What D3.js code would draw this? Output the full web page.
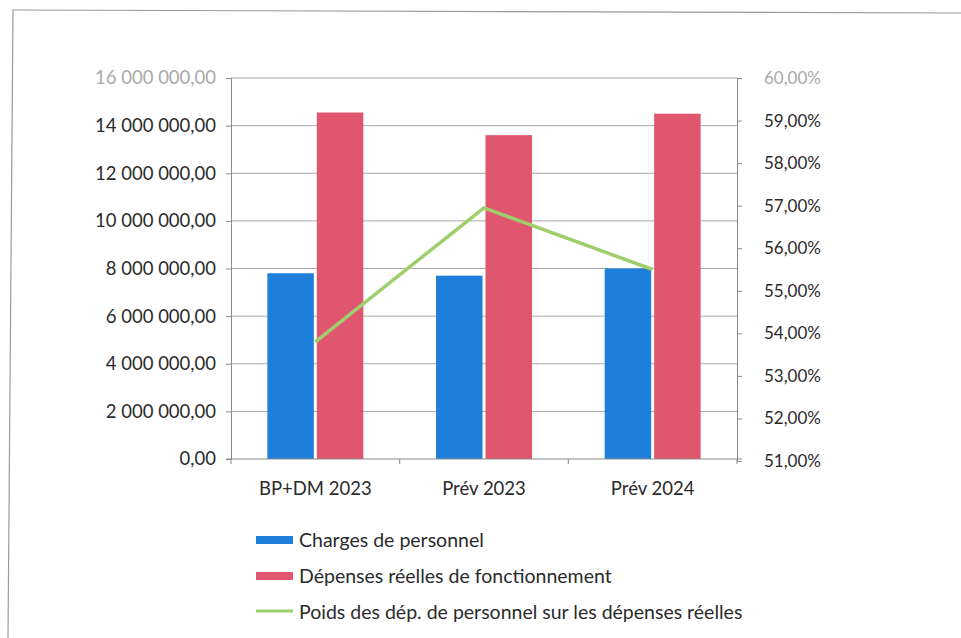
<!DOCTYPE html>
<html>
<head>
<meta charset="utf-8">
<script src="https://cdn.jsdelivr.net/npm/d3@7"></script>
<style>
  body { margin: 0; background: #fff; }
  svg { display: block; }
</style>
</head>
<body>
<div id="chart"></div>
<script>
// data
const categories = ['BP+DM 2023', 'Prév 2023', 'Prév 2024'];
const charges = [7800000, 7700000, 8000000];
const depenses = [14550000, 13600000, 14500000];
const poids = [53.8, 56.95, 55.5];
const leftTicks = [0, 2000000, 4000000, 6000000, 8000000, 10000000, 12000000, 14000000, 16000000];
const rightTicks = [51, 52, 53, 54, 55, 56, 57, 58, 59, 60];
const seriesNames = ['Charges de personnel', 'Dépenses réelles de fonctionnement', 'Poids des dép. de personnel sur les dépenses réelles'];

const blue = '#1f80dc';
const red = '#e0566f';
const green = '#9fcf6c';
const axisColor = '#8a8a8a';
const gridColor = '#a8a8a8';
const textColor = '#2b2b2b';
const font = 'Lato, "Open Sans", sans-serif';

const width = 961, height = 638;
const plot = { left: 231, right: 737, top: 78, bottom: 459 };

const svg = d3.select('#chart')
    .append('svg')
    .attr('width', width)
    .attr('height', height)
    .style('font-family', font);

// scan frame (top and left edges of the page box)
svg.append('path')
    .attr('d', 'M12,10 L961,13 M13,10 L8,638')
    .attr('fill', 'none')
    .attr('stroke', '#9a9a9a')
    .attr('stroke-width', 1.2);

const x0 = d3.scaleBand()
    .domain(categories)
    .range([plot.left, plot.right])
    .padding(0);

const x1 = d3.scaleBand()
    .domain(['charges', 'depenses'])
    .range([0, x0.bandwidth()])
    .paddingInner(0.06)
    .paddingOuter(0.735);

const yLeft = d3.scaleLinear()
    .domain([0, 16000000])
    .range([plot.bottom, plot.top]);

const yRight = d3.scaleLinear()
    .domain([51, 60])
    .range([plot.bottom + 2, plot.top]);

// gridlines
svg.append('g')
    .selectAll('line')
    .data(leftTicks.slice(1))
    .join('line')
    .attr('x1', plot.left)
    .attr('x2', plot.right)
    .attr('y1', d => yLeft(d))
    .attr('y2', d => yLeft(d))
    .attr('stroke', gridColor)
    .attr('stroke-width', 1);

// bars
const groups = svg.append('g')
    .selectAll('g')
    .data(categories.map((c, i) => ({ c, charges: charges[i], depenses: depenses[i] })))
    .join('g')
    .attr('transform', d => `translate(${x0(d.c)},0)`);

groups.append('rect')
    .attr('x', x1('charges'))
    .attr('width', x1.bandwidth())
    .attr('y', d => yLeft(d.charges))
    .attr('height', d => yLeft(0) - yLeft(d.charges))
    .attr('fill', blue);

groups.append('rect')
    .attr('x', x1('depenses'))
    .attr('width', x1.bandwidth())
    .attr('y', d => yLeft(d.depenses))
    .attr('height', d => yLeft(0) - yLeft(d.depenses))
    .attr('fill', red);

// left axis
const leftAxis = svg.append('g')
    .attr('transform', `translate(${plot.left},0)`)
    .call(d3.axisLeft(yLeft)
        .tickValues(leftTicks)
        .tickSize(5)
        .tickPadding(10)
        .tickFormat(d => d3.format(',.2f')(d).replace(/,/g, ' ').replace('.', ',')));
leftAxis.select('.domain').attr('stroke', axisColor);
leftAxis.selectAll('.tick line').attr('stroke', axisColor);
leftAxis.selectAll('.tick text')
    .attr('fill', d => d === 16000000 ? '#a9a9a9' : textColor)
    .style('font-size', '18.5px')
    .style('font-family', font);

// right axis
const rightAxis = svg.append('g')
    .attr('transform', `translate(${plot.right},0)`)
    .call(d3.axisRight(yRight)
        .tickValues(rightTicks)
        .tickSize(5)
        .tickPadding(22)
        .tickFormat(d => d3.format('.2f')(d).replace('.', ',') + '%'));
rightAxis.select('.domain').attr('stroke', axisColor);
rightAxis.selectAll('.tick line').attr('stroke', axisColor);
rightAxis.selectAll('.tick text')
    .attr('fill', d => d === 60 ? '#a9a9a9' : textColor)
    .style('font-size', '17px')
    .style('font-family', font);

// bottom axis
const bottomAxis = svg.append('g')
    .attr('transform', `translate(0,${plot.bottom})`)
    .call(d3.axisBottom(x0).tickSize(0).tickPadding(23));
bottomAxis.select('.domain').attr('stroke', axisColor).attr('d', `M${plot.left - 5},0H${plot.right + 5}`);
bottomAxis.selectAll('.tick text')
    .attr('fill', textColor)
    .style('font-size', '18.5px')
    .style('font-family', font);
svg.append('g')
    .selectAll('line')
    .data(categories.concat(['end']))
    .join('line')
    .attr('x1', (d, i) => i < categories.length ? x0(d) : plot.right)
    .attr('x2', (d, i) => i < categories.length ? x0(d) : plot.right)
    .attr('y1', plot.bottom)
    .attr('y2', plot.bottom + 5)
    .attr('stroke', axisColor);

// line series
const line = d3.line()
    .x((d, i) => x0(categories[i]) + x0.bandwidth() / 2)
    .y(d => yRight(d));

svg.append('path')
    .datum(poids)
    .attr('d', line)
    .attr('fill', 'none')
    .attr('stroke', green)
    .attr('stroke-width', 3.5)
    .attr('stroke-linejoin', 'round');

// legend
const legend = svg.append('g')
    .attr('transform', 'translate(256,540)');

const items = legend.selectAll('g')
    .data(seriesNames)
    .join('g')
    .attr('transform', (d, i) => `translate(0,${i * 36})`);

items.each(function (d, i) {
    const g = d3.select(this);
    if (i < 2) {
        g.append('rect')
            .attr('x', 0).attr('y', -4)
            .attr('width', 37).attr('height', 8)
            .attr('fill', i === 0 ? blue : red);
    } else {
        g.append('line')
            .attr('x1', 0).attr('x2', 37)
            .attr('y1', -1).attr('y2', -1)
            .attr('stroke', green).attr('stroke-width', 3);
    }
});

items.append('text')
    .attr('x', 43)
    .attr('y', 0)
    .attr('dy', '0.35em')
    .attr('fill', textColor)
    .style('font-size', '19.5px')
    .text(d => d);
</script>
</body>
</html>
